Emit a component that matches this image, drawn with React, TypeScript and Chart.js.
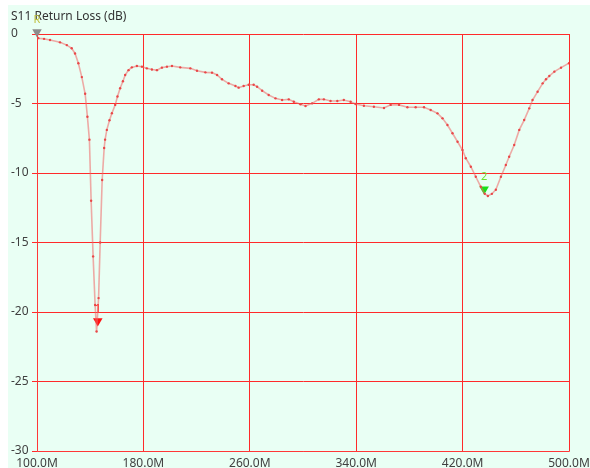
import { useEffect, useRef } from 'react';
import { Chart, registerables } from 'chart.js';
Chart.register(...registerables);

const titleText = 'S11 Return Loss (dB)';

const freqMHz = [
  100, 101, 105.3, 109.8, 117.3, 122.4, 126.1, 128.6, 131.1, 133.7, 136.2, 137.9, 139.4,
  140.7, 142.2, 143.7, 144.8, 146.3, 147.5, 149, 150.5, 151.2, 152.5, 154.5, 156.3, 158.8,
  160.5, 162.5, 164.6, 166.3, 168.8, 171.3, 175.1, 178.9, 182.6, 186.4, 190.2, 193.9, 197.7,
  201.5, 207.7, 215.3, 220.3, 226.6, 231.6, 235.4, 239.1, 244.1, 249.2, 251.6, 255.4, 259.2,
  262.9, 265.5, 269.3, 274.2, 279.3, 284.3, 289.3, 293.1, 298.1, 301.9, 306.9, 311.9, 315.7,
  320.7, 325.8, 330.7, 335.8, 339.5, 345.8, 353.3, 360.9, 365.9, 372.2, 378.5, 384.7, 391,
  396, 401.1, 404.9, 408.6, 412.4, 416.2, 419.9, 422.4, 426.2, 429.9, 433.7, 436.7, 439, 442,
  445, 448.8, 452.5, 455, 458.8, 462.6, 466.3, 470.1, 472.6, 476.4, 480.2, 482.7, 485.2, 489,
  494, 500,
];

const s11dB = [
  -0.15, -0.3, -0.35, -0.43, -0.6, -0.8, -1.03, -1.4, -2.1, -3.1, -4.3, -5.95, -7.6,
  -12, -16, -19.5, -21.4, -19, -15, -10.5, -8.2, -7.6, -6.9, -6.2, -5.7, -5.1,
  -4.5, -3.9, -3.4, -2.95, -2.6, -2.4, -2.3, -2.35, -2.47, -2.55, -2.6, -2.42, -2.35,
  -2.3, -2.4, -2.47, -2.64, -2.76, -2.78, -2.95, -3.26, -3.55, -3.74, -3.86, -3.74, -3.65,
  -3.65, -3.79, -4.08, -4.39, -4.63, -4.75, -4.7, -4.87, -5.06, -5.18, -4.99, -4.7, -4.7,
  -4.82, -4.82, -4.75, -4.87, -5.04, -5.16, -5.23, -5.32, -5.1, -5.1, -5.27, -5.27, -5.27,
  -5.47, -5.71, -6.07, -6.55, -7.14, -7.75, -8.35, -8.94, -9.55, -10.27, -10.99, -11.5, -11.65, -11.5,
  -11.2, -10.27, -9.42, -8.83, -7.99, -6.9, -6.19, -5.35, -4.75, -4.15, -3.55, -3.26, -3.02, -2.71,
  -2.42, -2.1,
];

const markerFreqs = [100, 145.7, 436.2];
const markerValues = [0.14, -20.65, -11.17];
const markerLabels = ['R', '1', '2'];
const markerColors = ['#8c8c8c', '#ff1010', '#18e018'];
const markerLabelColors = ['#c0c040', '#ff2020', '#70e030'];

const xMin = 100;
const xMax = 500;
const xStep = 80;
const yMin = -30;
const yMax = 0;
const yStep = 5;

const FONT = '"Noto Sans", "Open Sans", sans-serif';
const GRID = '#ff2a2a';

export default function App() {
  const ref = useRef<HTMLCanvasElement | null>(null);

  useEffect(() => {
    if (!ref.current) return;
    const overlay = {
      id: 'overlay',
      afterDatasetsDraw(chart: any) {
        const { ctx, scales } = chart;
        ctx.save();
        ctx.font = `12px ${FONT}`;
        ctx.fillStyle = '#333333';
        ctx.textAlign = 'left';
        ctx.textBaseline = 'middle';
        ctx.fillText(titleText, 3, 12);
        ctx.font = `11px ${FONT}`;
        ctx.textAlign = 'center';
        markerLabels.forEach((lbl, i) => {
          const x = scales.x.getPixelForValue(markerFreqs[i]);
          const y = scales.y.getPixelForValue(markerValues[i]);
          ctx.fillStyle = markerLabelColors[i];
          ctx.fillText(lbl, x, y - 12);
        });
        ctx.restore();
      },
    };

    const chart = new Chart(ref.current, {
      type: 'line',
      data: {
        datasets: [
          {
            data: freqMHz.map((f, i) => ({ x: f, y: s11dB[i] })),
            borderColor: 'rgba(240,100,100,0.55)',
            borderWidth: 1.6,
            pointRadius: 1.2,
            pointBorderWidth: 0,
            pointBackgroundColor: '#e84848',
            tension: 0,
          },
          {
            type: 'scatter',
            data: markerFreqs.map((f, i) => ({ x: f, y: markerValues[i] })),
            pointStyle: 'triangle',
            rotation: 180,
            pointRadius: 5.5,
            pointBorderWidth: 0,
            pointBackgroundColor: markerColors,
            clip: false,
          } as any,
        ],
      },
      options: {
        animation: false,
        responsive: false,
        layout: { padding: { left: 3, top: 29, right: 21, bottom: 0 } },
        plugins: { legend: { display: false }, tooltip: { enabled: false } },
        scales: {
          x: {
            type: 'linear',
            min: xMin,
            max: xMax,
            afterFit(s: any) { s.height = 17; s.paddingLeft = 0; s.paddingRight = 0; },
            ticks: {
              stepSize: xStep,
              padding: 5,
              color: '#404040',
              font: { family: FONT, size: 12 },
              maxRotation: 0,
              callback: (v: any) => Number(v).toFixed(1) + 'M',
            },
            grid: {
              drawTicks: false,
              color: GRID,
              lineWidth: 1,
            },
            border: { color: 'rgba(255,60,60,0.75)' },
          },
          y: {
            min: yMin,
            max: yMax,
            afterFit(s: any) { s.width = 26; s.paddingTop = 0; s.paddingBottom = 0; },
            ticks: {
              stepSize: yStep,
              crossAlign: 'far',
              color: '#404040',
              font: { family: FONT, size: 12 },
              callback: (v: any) => String(v),
            },
            grid: {
              tickLength: 5,
              color: GRID,
              lineWidth: 1,
            },
            border: { color: 'rgba(255,60,60,0.75)' },
          },
        },
      },
      plugins: [overlay],
    } as any);
    return () => chart.destroy();
  }, []);

  return (
    <div style={{ position: 'absolute', left: 8, top: 5, width: 582, height: 463, background: '#e9fff4' }}>
      <canvas ref={ref} width={582} height={463} style={{ display: 'block' }} />
    </div>
  );
}
